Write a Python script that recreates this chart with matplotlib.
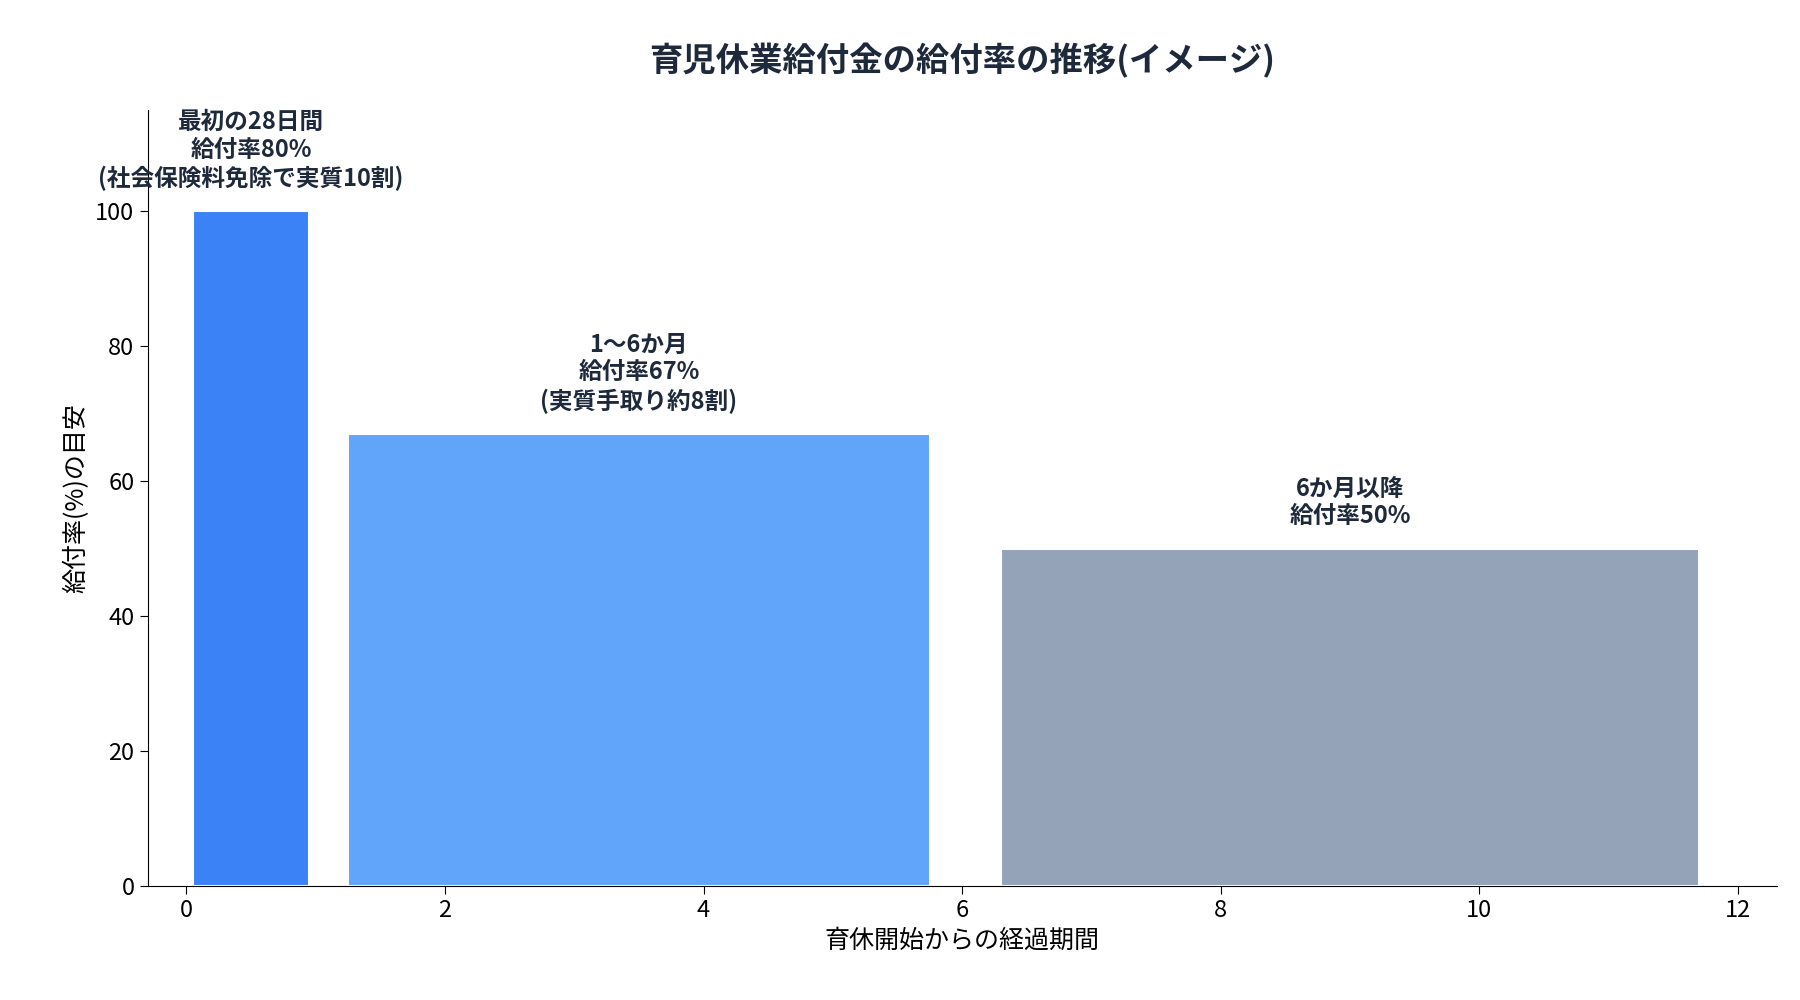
import matplotlib
matplotlib.use("Agg")
from matplotlib import pyplot as plt

plt.rcParams['font.family'] = ['Noto Sans CJK JP', 'DejaVu Sans']

# 区間の中心・長さ(月)・給付率
centers = [0.5, 3.5, 9.0]
spans = [1, 5, 6]
rates = [100, 67, 50]
colors = ["#3b82f6", "#60a5fa", "#94a3b8"]
labels = ["最初の28日間\n給付率80%\n(社会保険料免除で実質10割)",
          "1〜6か月\n給付率67%\n(実質手取り約8割)",
          "6か月以降\n給付率50%"]
text_color = "#1e293b"

fig = plt.figure(figsize=(18, 10), dpi=100)
ax = fig.add_axes([0.082, 0.114, 0.905, 0.776])

widths = [s * 0.9 for s in spans]
ax.bar(centers, rates, width=widths, color=colors, edgecolor="white", linewidth=1.5)

for c, r, t in zip(centers, rates, labels):
    ax.text(c, r + 3, t, ha="center", va="bottom", fontsize=17,
            fontweight="bold", color=text_color, linespacing=1.2)

ax.set_xlim(-0.3, 12.3)
ax.set_ylim(0, 115)
ax.set_yticks([0, 20, 40, 60, 80, 100])
ax.set_xticks([0, 2, 4, 6, 8, 10, 12])
ax.tick_params(labelsize=17, length=6)
ax.spines["top"].set_visible(False)
ax.spines["right"].set_visible(False)

ax.set_title("育児休業給付金の給付率の推移(イメージ)", fontsize=24,
             fontweight="bold", color=text_color, pad=28)
ax.set_xlabel("育休開始からの経過期間", fontsize=18)
ax.set_ylabel("給付率(%)の目安", fontsize=18)

plt.savefig("out.png")
